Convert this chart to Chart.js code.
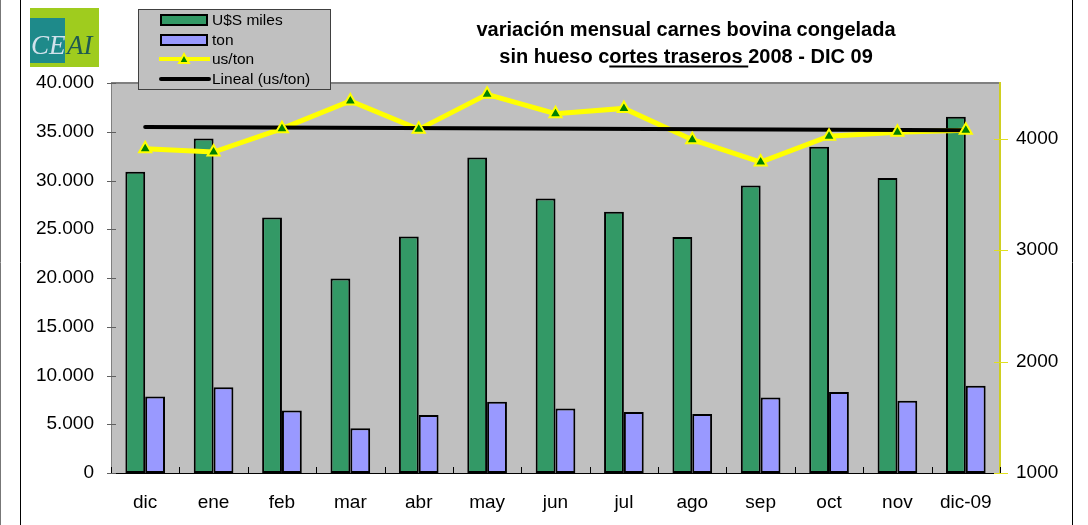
<!DOCTYPE html>
<html>
<head>
<meta charset="utf-8">
<script src="https://cdn.jsdelivr.net/npm/chart.js@4.4.1/dist/chart.umd.min.js"></script>
<style>
    html, body { margin: 0; padding: 0; background: #fff; }
    #wrap { width: 1088px; height: 525px; position: relative; }
</style>
</head>
<body>
<div id="wrap"><canvas id="chart"></canvas></div>
<script>
// data
const months = ["dic", "ene", "feb", "mar", "abr", "may", "jun", "jul", "ago", "sep", "oct", "nov", "dic-09"];
const usdMiles = [30900, 34300, 26200, 19950, 24250, 32350, 28150, 26800, 24200, 29500, 33450, 30250, 36550];
const tons = [7850, 8800, 6400, 4580, 5950, 7320, 6620, 6260, 6050, 7750, 8300, 7400, 8950];
const usPerTon = [3910, 3880, 4090, 4338, 4084, 4398, 4225, 4272, 3991, 3790, 4023, 4059, 4077];
const lineal = [4105, null, null, null, null, null, null, null, null, null, null, null, 4077];
const rightTicks = [1000, 2000, 3000, 4000];

const titleLines = ["variación mensual carnes bovina congelada", "sin hueso cortes traseros 2008 - DIC 09"];
const legendLabels = ["U$S miles", "ton", "us/ton", "Lineal (us/ton)"];

const GREEN = "#339966";
const BLUE = "#9999FF";
const YELLOW = "#FFFF00";
const FONT = "'Liberation Sans', Arial, sans-serif";

function dotThousands(v) {
    return String(v).replace(/\B(?=(\d{3})+(?!\d))/g, ".");
}

// frame, logo, plot background
const backdrop = {
    id: "backdrop",
    beforeDraw(chart) {
        const c = chart.ctx;
        const a = chart.chartArea;
        c.save();
        c.fillStyle = "#fff";
        c.fillRect(0, 0, chart.width, chart.height);
        c.fillStyle = "#C0C0C0";
        c.fillRect(a.left, a.top, a.right - a.left, a.bottom - a.top);
        // top border of plot
        c.strokeStyle = "#808080";
        c.lineWidth = 2;
        c.beginPath();
        c.moveTo(a.left, a.top);
        c.lineTo(a.right, a.top);
        c.stroke();

        // page frame lines
        c.lineWidth = 1;
        c.strokeStyle = "#777";
        c.beginPath(); c.moveTo(0.5, 0); c.lineTo(0.5, chart.height); c.stroke();
        c.strokeStyle = "#000";
        c.beginPath(); c.moveTo(20.5, 0); c.lineTo(20.5, chart.height); c.stroke();
        c.beginPath(); c.moveTo(1072.5, 0); c.lineTo(1072.5, chart.height); c.stroke();

        // logo
        c.fillStyle = "#9FCC1E";
        c.fillRect(30, 8, 69, 59);
        c.fillStyle = "#1E8A8A";
        c.fillRect(30, 18, 35, 45);
        c.font = "italic 27px 'Liberation Serif', 'DejaVu Serif', serif";
        c.textBaseline = "alphabetic";
        c.textAlign = "left";
        c.fillStyle = "#D2E2EC";
        c.fillText("CE", 31, 54);
        c.fillStyle = "#1F5A50";
        c.fillText("AI", 67, 54);
        c.restore();
    }
};

// axis ticks crossing the axis lines, title and legend
const overlay = {
    id: "overlay",
    afterDraw(chart) {
        const c = chart.ctx;
        const a = chart.chartArea;
        const x = chart.scales.x;
        const yl = chart.scales.y;
        const yr = chart.scales.y2;
        c.save();
        c.lineWidth = 1;

        c.strokeStyle = "#000";
        for (let i = 0; i <= months.length; i++) {
            const px = Math.round(x.getPixelForValue(i - 0.5)) + 0.5;
            c.beginPath(); c.moveTo(px, a.bottom - 6); c.lineTo(px, a.bottom + 1); c.stroke();
        }
        c.strokeStyle = "#606060";
        yl.ticks.forEach(t => {
            const py = Math.round(yl.getPixelForValue(t.value)) + 0.5;
            c.beginPath(); c.moveTo(a.left - 4, py); c.lineTo(a.left + 5, py); c.stroke();
        });
        c.strokeStyle = "#E0E020";
        yr.ticks.forEach(t => {
            const py = Math.round(yr.getPixelForValue(t.value)) + 0.5;
            c.beginPath(); c.moveTo(a.right - 6, py); c.lineTo(a.right + 8, py); c.stroke();
        });

        // title
        c.fillStyle = "#000";
        c.font = "bold 20px " + FONT;
        c.textAlign = "left";
        c.textBaseline = "alphabetic";
        const cx = 686;
        const w1 = c.measureText(titleLines[0]).width;
        c.fillText(titleLines[0], cx - w1 / 2, 36);
        const w2 = c.measureText(titleLines[1]).width;
        const x2 = cx - w2 / 2;
        c.fillText(titleLines[1], x2, 63);
        const pre = c.measureText("sin hueso c").width;
        const ul = c.measureText("ortes traseros ").width;
        c.fillRect(x2 + pre, 65.5, ul, 2);

        // legend
        c.fillStyle = "#C0C0C0";
        c.fillRect(138, 9, 192, 80);
        c.strokeStyle = "#404040";
        c.lineWidth = 1;
        c.strokeRect(138.5, 9.5, 192, 80);
        const rowY = [20, 40, 59, 79];
        c.lineWidth = 2;
        [GREEN, BLUE].forEach((col, i) => {
            c.fillStyle = col;
            c.fillRect(161, rowY[i] - 5, 46, 10);
            c.strokeStyle = "#000";
            c.strokeRect(161, rowY[i] - 5, 46, 10);
        });
        c.lineWidth = 4;
        c.strokeStyle = YELLOW;
        c.beginPath(); c.moveTo(159, rowY[2]); c.lineTo(210, rowY[2]); c.stroke();
        c.lineWidth = 2;
        c.fillStyle = "#008000";
        c.beginPath();
        c.moveTo(184, rowY[2] - 5); c.lineTo(189, rowY[2] + 4); c.lineTo(179, rowY[2] + 4); c.closePath();
        c.fill(); c.stroke();
        c.lineWidth = 4;
        c.strokeStyle = "#000";
        c.lineCap = "round";
        c.beginPath(); c.moveTo(161, rowY[3]); c.lineTo(209, rowY[3]); c.stroke();
        c.fillStyle = "#000";
        c.font = "15.5px " + FONT;
        c.textBaseline = "middle";
        legendLabels.forEach((lab, i) => c.fillText(lab, 212, rowY[i] + 1));
        c.restore();
    }
};

const ctx = document.getElementById("chart").getContext("2d");
new Chart(ctx, {
    data: {
        labels: months,
        datasets: [
            {
                type: "line", label: "us/ton markers", data: usPerTon, yAxisID: "y2", order: -1,
                showLine: false, pointStyle: "triangle", pointRadius: 7,
                pointBackgroundColor: "#008000", pointBorderColor: YELLOW, pointBorderWidth: 2
            },
            {
                type: "line", label: "Lineal (us/ton)", data: lineal, yAxisID: "y2", order: 0,
                borderColor: "#000", borderWidth: 4, pointRadius: 0, spanGaps: true, borderCapStyle: "round"
            },
            {
                type: "line", label: "us/ton", data: usPerTon, yAxisID: "y2", order: 1,
                borderColor: YELLOW, borderWidth: 5, pointRadius: 0, tension: 0
            },
            {
                type: "bar", label: "U$S miles", data: usdMiles, yAxisID: "y", order: 2,
                backgroundColor: GREEN, borderColor: "#000", borderWidth: 2, borderSkipped: false,
                barPercentage: 1, categoryPercentage: 0.58, inflateAmount: 0
            },
            {
                type: "bar", label: "ton", data: tons, yAxisID: "y", order: 3,
                backgroundColor: BLUE, borderColor: "#000", borderWidth: 2, borderSkipped: false,
                barPercentage: 1, categoryPercentage: 0.58, inflateAmount: 0
            }
        ]
    },
    options: {
        responsive: true,
        maintainAspectRatio: false,
        animation: false,
        layout: { padding: { top: 83, left: 0, right: 0, bottom: 0 } },
        plugins: { legend: { display: false }, tooltip: { enabled: false }, title: { display: false } },
        scales: {
            x: {
                offset: true,
                grid: { display: false, drawTicks: false },
                border: { color: "#000", width: 1 },
                ticks: { color: "#000", font: { size: 19, family: FONT }, padding: 18, maxRotation: 0 },
                afterFit(s) { s.height = 52; }
            },
            y: {
                position: "left",
                min: 0, max: 40000,
                grid: { display: false, drawTicks: false },
                border: { color: "#808080", width: 1 },
                ticks: { stepSize: 5000, color: "#000", font: { size: 19, family: FONT }, padding: 17, callback: v => dotThousands(v) },
                afterFit(s) { s.width = 111; }
            },
            y2: {
                position: "right",
                min: 1000, max: 4500,
                grid: { display: false, drawTicks: false },
                border: { color: "#CFCF20", width: 2 },
                ticks: { color: "#000", font: { size: 19, family: FONT }, padding: 16, callback: v => String(v) },
                afterBuildTicks(s) { s.ticks = rightTicks.map(v => ({ value: v })); },
                afterFit(s) { s.width = 88; }
            }
        }
    },
    plugins: [backdrop, overlay]
});
</script>
</body>
</html>
